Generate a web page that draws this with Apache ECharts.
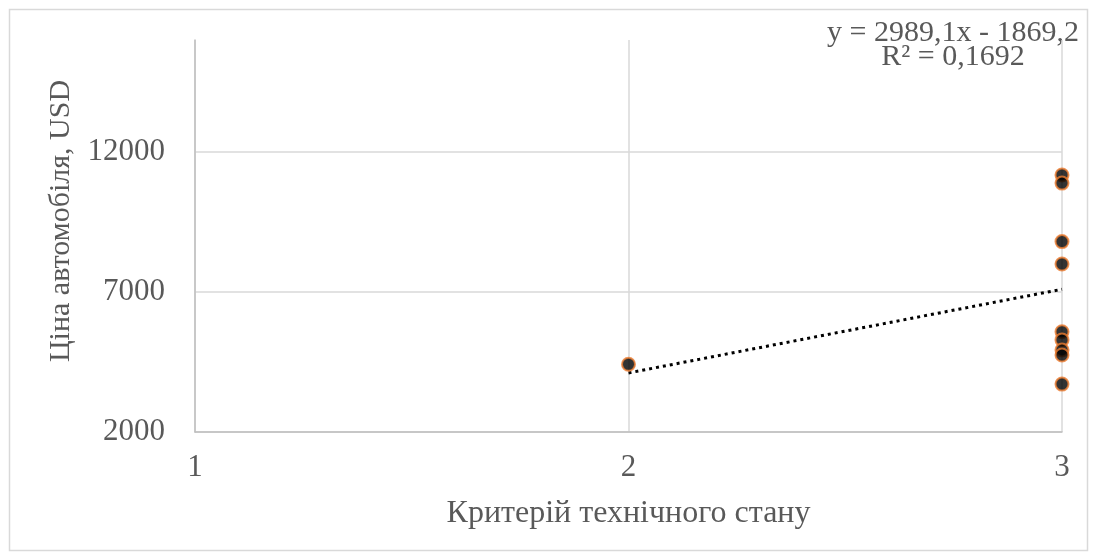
<!DOCTYPE html>
<html>
<head>
<meta charset="utf-8">
<script src="https://cdn.jsdelivr.net/npm/echarts@6/dist/echarts.min.js"></script>
<style>
  html, body { margin: 0; padding: 0; background: #ffffff; }
  #chart { width: 1098px; height: 560px; }
</style>
</head>
<body>
<div id="chart"></div>
<script>
// Technical-condition score of each car and its price, USD
const conditionScores = [2, 3, 3, 3, 3, 3, 3, 3, 3, 3];
const pricesUsd = [4420, 11180, 10890, 8800, 8000, 5580, 5290, 4930, 4750, 3710];

// Linear trend reported for the data
const trendSlope = 2989.1;
const trendIntercept = -1869.2;
const trendR2 = 0.1692;
const trendRange = [2, 3];

// Axis ticks
const xTicks = [1, 2, 3];
const yTicks = [2000, 7000, 12000];
const yAxisMax = 16000;

const fmt = (v, d) => v.toFixed(d).replace('.', ',');

const points = conditionScores.map((x, i) => [x, pricesUsd[i]]);
const trendPoints = trendRange.map(x => [x, trendSlope * x + trendIntercept]);

const serif = '"Liberation Serif", "DejaVu Serif", serif';
const textColor = '#595959';
const gridColor = '#d9d9d9';

const chart = echarts.init(document.getElementById('chart'), null, { renderer: 'canvas' });
chart.setOption({
  backgroundColor: '#ffffff',
  animation: false,
  grid: { left: 195, right: 36, top: 40, bottom: 128, containLabel: false },
  xAxis: {
    type: 'value',
    min: xTicks[0],
    max: xTicks[xTicks.length - 1],
    interval: xTicks[1] - xTicks[0],
    name: 'Критерій технічного стану',
    nameLocation: 'middle',
    nameGap: 66,
    nameTextStyle: { fontFamily: serif, fontSize: 32, color: textColor },
    axisLine: { show: true, lineStyle: { color: '#bfbfbf', width: 1.5 } },
    axisTick: { show: false },
    axisLabel: { fontFamily: serif, fontSize: 31, color: textColor, margin: 20, formatter: v => String(v) },
    splitLine: { show: true, lineStyle: { color: gridColor, width: 1.5 } }
  },
  yAxis: {
    type: 'value',
    min: yTicks[0],
    max: yAxisMax,
    interval: yTicks[1] - yTicks[0],
    name: 'Ціна автомобіля, USD',
    nameLocation: 'middle',
    nameGap: 111,
    nameRotate: 90,
    nameTextStyle: { fontFamily: serif, fontSize: 30, color: textColor, padding: [0, 0, 0, 30] },
    axisLine: { show: true, lineStyle: { color: '#bfbfbf', width: 1.5 } },
    axisTick: { show: false },
    axisLabel: { fontFamily: serif, fontSize: 31, color: textColor, margin: 30, showMaxLabel: false, formatter: v => String(v) },
    splitLine: { show: true, showMaxLine: false, lineStyle: { color: gridColor, width: 1.5 } }
  },
  series: [
    {
      type: 'line',
      data: trendPoints,
      showSymbol: false,
      symbol: 'none',
      silent: true,
      z: 2,
      lineStyle: { color: '#000000', width: 3, type: [3, 4], cap: 'butt' }
    },
    {
      type: 'scatter',
      data: points,
      symbol: 'circle',
      symbolSize: 13,
      z: 3,
      itemStyle: { color: '#000000', borderColor: '#ed7d31', borderWidth: 2 }
    }
  ],
  graphic: [
    {
      type: 'rect',
      silent: true,
      shape: { x: 9.5, y: 9.5, width: 1078, height: 541 },
      style: { fill: null, stroke: '#d9d9d9', lineWidth: 1.5 }
    },
    {
      type: 'text',
      silent: true,
      x: 953, y: 33,
      style: {
        text: 'y = ' + fmt(trendSlope, 1) + 'x ' + (trendIntercept < 0 ? '- ' : '+ ') + fmt(Math.abs(trendIntercept), 1),
        font: '30px ' + serif, fill: textColor, align: 'center', verticalAlign: 'middle'
      }
    },
    {
      type: 'text',
      silent: true,
      x: 953, y: 57,
      style: {
        text: 'R² = ' + fmt(trendR2, 4),
        font: '30px ' + serif, fill: textColor, align: 'center', verticalAlign: 'middle'
      }
    }
  ]
});
</script>
</body>
</html>
